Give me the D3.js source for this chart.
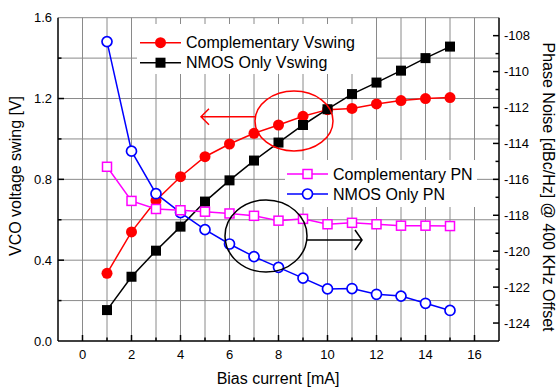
<!DOCTYPE html>
<html><head><meta charset="utf-8">
<script src="https://cdn.jsdelivr.net/npm/d3@7"></script>
<style>body{margin:0;background:#fff}svg{display:block;font-family:"Liberation Sans",Arial,sans-serif}</style>
</head><body><div id="c"></div>
<script>
const biasCurrent = [1,2,3,4,5,6,7,8,9,10,11,12,13,14,15];
const compVswing = [0.335,0.54,0.695,0.813,0.912,0.975,1.028,1.069,1.112,1.145,1.151,1.173,1.19,1.2,1.205];
const nmosVswing = [0.153,0.318,0.447,0.566,0.69,0.795,0.893,0.982,1.069,1.147,1.222,1.279,1.338,1.4,1.457];
const compPN = [-115.3,-117.2,-117.65,-117.72,-117.8,-117.9,-118.03,-118.3,-118.2,-118.5,-118.42,-118.5,-118.58,-118.58,-118.6];
const nmosPN = [-108.33,-114.43,-116.8,-117.85,-118.8,-119.6,-120.3,-120.9,-121.5,-122.1,-122.08,-122.4,-122.5,-122.9,-123.3];
const xTicks = [0,2,4,6,8,10,12,14,16];
const yLeftTicks = [0,0.4,0.8,1.2,1.6];
const yRightTicks = [-124,-122,-120,-118,-116,-114,-112,-110,-108];

const W=558,H=388;
const svg=d3.select("#c").append("svg").attr("width",W).attr("height",H);
const x=d3.scaleLinear().domain([-1,17]).range([58,499]);
const yL=d3.scaleLinear().domain([0,1.6]).range([341,17.7]);
const yR=d3.scaleLinear().domain([-125,-107]).range([341,17.7]);
const gridC="#8a8a8a";

// gridlines
const g=svg.append("g");
g.selectAll(".vg").data(d3.range(0,17)).join("line")
 .attr("x1",d=>x(d)).attr("x2",d=>x(d)).attr("y1",yL(0)).attr("y2",yL(1.6))
 .attr("stroke",gridC).attr("stroke-width",1);
g.selectAll(".hg").data(d3.range(1,9).map(i=>i*0.2)).join("line")
 .attr("x1",x(-1)).attr("x2",x(17)).attr("y1",d=>yL(d)).attr("y2",d=>yL(d))
 .attr("stroke",gridC).attr("stroke-width",1);

// legend backgrounds
svg.append("rect").attr("x",137).attr("y",24).attr("width",239).attr("height",50).attr("fill","#fff");
svg.append("rect").attr("x",285).attr("y",160).attr("width",192).attr("height",47).attr("fill","#fff");

function series(vals, yS, color, shape){
  const pts=biasCurrent.map((d,i)=>[x(d),yS(vals[i])]);
  svg.append("path").attr("d",d3.line()(pts)).attr("fill","none").attr("stroke",color).attr("stroke-width",1.5);
  drawMarkers(svg,pts,color,shape);
}
function drawMarkers(sel,pts,color,shape){
  pts.forEach(p=>marker(sel,p[0],p[1],color,shape));
}
function marker(sel,cx,cy,color,shape){
  if(shape==="fc") sel.append("circle").attr("cx",cx).attr("cy",cy).attr("r",5.5).attr("fill",color);
  else if(shape==="fs") sel.append("rect").attr("x",cx-5).attr("y",cy-5).attr("width",10).attr("height",10).attr("fill",color);
  else if(shape==="os") sel.append("rect").attr("x",cx-4.5).attr("y",cy-4.5).attr("width",9).attr("height",9).attr("fill","#fff").attr("stroke",color).attr("stroke-width",1.5);
  else if(shape==="oc") sel.append("circle").attr("cx",cx).attr("cy",cy).attr("r",5).attr("fill","#fff").attr("stroke",color).attr("stroke-width",1.7);
}
series(compVswing,yL,"#ff0000","fc");
series(nmosVswing,yL,"#000000","fs");
series(nmosPN,yR,"#0000ff","oc");
series(compPN,yR,"#ff00ff","os");

// legends
const legendItems=[
 {label:"Complementary Vswing",color:"#ff0000",shape:"fc",x:140,y:42.7},
 {label:"NMOS Only Vswing",color:"#000000",shape:"fs",x:140,y:62.7},
 {label:"Complementary PN",color:"#ff00ff",shape:"os",x:287,y:174},
 {label:"NMOS Only PN",color:"#0000ff",shape:"oc",x:287,y:194}
];
legendItems.forEach(it=>{
  svg.append("line").attr("x1",it.x).attr("x2",it.x+41).attr("y1",it.y).attr("y2",it.y).attr("stroke",it.color).attr("stroke-width",1.5);
  marker(svg,it.x+20.5,it.y,it.color,it.shape);
  svg.append("text").attr("x",it.x+46).attr("y",it.y+5.7).attr("font-size",16).attr("fill","#000").text(it.label);
});

// annotations
svg.append("ellipse").attr("cx",294).attr("cy",121).attr("rx",39).attr("ry",30).attr("fill","none").attr("stroke","#ff0000").attr("stroke-width",1.5);
svg.append("path").attr("d","M255,116.7H201M209,108.7L201,116.7L209,124.7").attr("fill","none").attr("stroke","#ff0000").attr("stroke-width",1.5);
svg.append("ellipse").attr("cx",266).attr("cy",236).attr("rx",41).attr("ry",36).attr("fill","none").attr("stroke","#000").attr("stroke-width",1.5);
svg.append("path").attr("d","M307,240H362M355,230L362,240L355,250").attr("fill","none").attr("stroke","#000").attr("stroke-width",1.5);

// axes
const ax=svg.append("g").attr("stroke","#000").attr("stroke-width",1.5).attr("fill","none");
ax.append("line").attr("x1",x(-1)).attr("x2",x(17)).attr("y1",yL(0)).attr("y2",yL(0));
ax.append("line").attr("x1",x(-1)).attr("x2",x(-1)).attr("y1",yL(0)).attr("y2",yL(1.6));
ax.append("line").attr("x1",x(17)).attr("x2",x(17)).attr("y1",yL(0)).attr("y2",yL(1.6));
// bottom ticks
ax.selectAll(".bt").data(d3.range(0,17)).join("line")
 .attr("x1",d=>x(d)).attr("x2",d=>x(d)).attr("y1",yL(0)).attr("y2",d=>yL(0)-(d%2===0?6:3.5));
// left ticks
ax.selectAll(".lt").data(d3.range(1,8)).join("line")
 .attr("x1",x(-1)).attr("x2",d=>x(-1)+(d%2===0?6:3.5)).attr("y1",d=>yL(d*0.2)).attr("y2",d=>yL(d*0.2));
// right ticks
ax.selectAll(".rt").data(d3.range(-124,-107)).join("line")
 .attr("x1",x(17)).attr("x2",d=>x(17)-(d%2===0?6:3.5)).attr("y1",d=>yR(d)).attr("y2",d=>yR(d));

const lab=svg.append("g").attr("font-size",13).attr("fill","#000");
lab.selectAll(".xl").data(xTicks).join("text").attr("x",d=>x(d)).attr("y",359).attr("text-anchor","middle").text(d=>d);
lab.selectAll(".yl").data(yLeftTicks).join("text").attr("x",52).attr("y",d=>yL(d)+4.6).attr("text-anchor","end").text(d=>d.toFixed(1));
lab.selectAll(".yr").data(yRightTicks).join("text").attr("x",504).attr("y",d=>yR(d)+4.6).attr("text-anchor","start").text(d=>d);

svg.append("text").attr("x",278).attr("y",384).attr("text-anchor","middle").attr("font-size",16).text("Bias current [mA]");
svg.append("text").attr("transform","translate(21,176) rotate(-90)").attr("text-anchor","middle").attr("font-size",16).text("VCO voltage swing [V]");
svg.append("text").attr("transform","translate(543,187) rotate(90)").attr("text-anchor","middle").attr("font-size",16).text("Phase Noise [dBc/Hz] @ 400 KHz Offset");
</script></body></html>
